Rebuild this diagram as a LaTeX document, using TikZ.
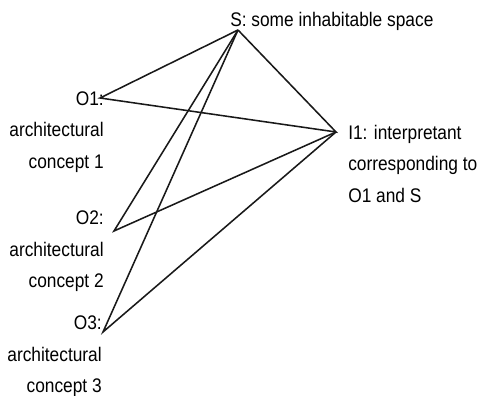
\documentclass[tikz,border=0pt]{standalone}
\usepackage{fontspec}
\setmainfont{Liberation Sans}[FakeStretch=0.88]
\usetikzlibrary{positioning}

\begin{document}
\begin{tikzpicture}[
        lbl/.style={inner sep=0pt, font=\fontsize{14}{22.4}\selectfont},
        olbl/.style={lbl, align=right, anchor=north east},
        ilbl/.style={lbl, align=left, anchor=north west},
        link/.style={-, line width=1.1pt, black!90}
    ]
    \useasboundingbox (0,0) rectangle (12.025,9.9);

    % Corner points
    \coordinate (s)  at (5.95, 9.15);
    \coordinate (o1) at (2.5, 7.45);
    \coordinate (i1) at (8.4, 6.6);
    \coordinate (o2) at (2.85, 4.125);
    \coordinate (o3) at (2.575, 1.6);

    % Sign and interpretant
    \node[ilbl] (slabel) at (5.75, 9.6) {S: some inhabitable space};
    \node[ilbl] (ilabel) at (8.7, 6.78) {I1: interpretant\\corresponding to\\O1 and S};

    % Left column — objects
    \node[olbl] (olabel1) at (2.6, 7.62)  {O1:\\architectural\\concept 1};
    \node[olbl] (olabel2) at (2.6, 4.63)  {O2:\\architectural\\concept 2};
    \node[olbl] (olabel3) at (2.55, 2.01) {O3:\\architectural\\concept 3};

    % Triangles
    \draw[link] (s) -- (o1) -- (i1) -- (s);
    \draw[link] (s) -- (o2) -- (i1);
    \draw[link] (s) -- (o3) -- (i1);

\end{tikzpicture}
\end{document}
